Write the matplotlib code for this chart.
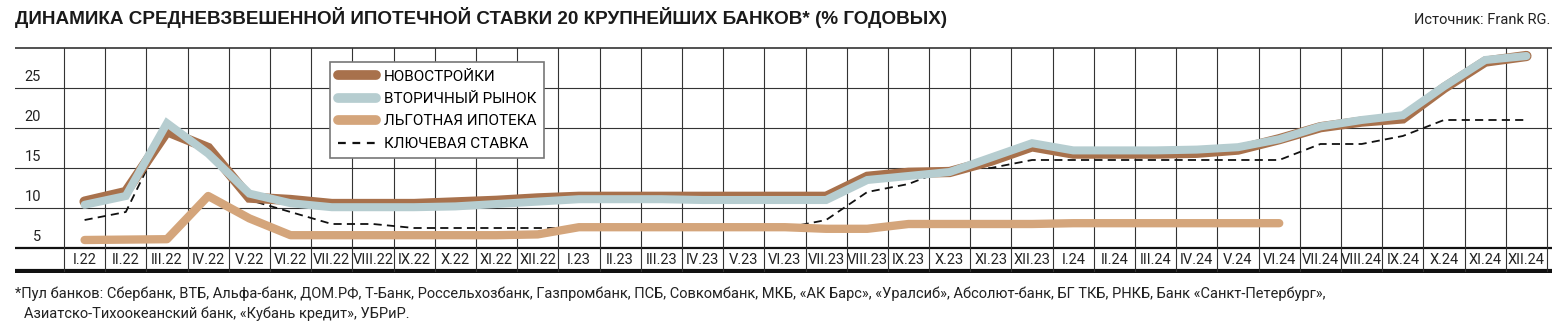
import matplotlib
matplotlib.use("Agg")
import matplotlib.pyplot as plt
from matplotlib.lines import Line2D

# Подписи месяцев
months = ["I.22", "II.22", "III.22", "IV.22", "V.22", "VI.22", "VII.22", "VIII.22",
          "IX.22", "X.22", "XI.22", "XII.22",
          "I.23", "II.23", "III.23", "IV.23", "V.23", "VI.23", "VII.23", "VIII.23",
          "IX.23", "X.23", "XI.23", "XII.23",
          "I.24", "II.24", "III.24", "IV.24", "V.24", "VI.24", "VII.24", "VIII.24",
          "IX.24", "X.24", "XI.24", "XII.24"]

# Ставки, % годовых
novostroyki = [10.8, 12.0, 19.6, 17.5, 11.3, 11.0, 10.5, 10.5, 10.5, 10.7, 10.9, 11.2,
               11.4, 11.4, 11.4, 11.4, 11.4, 11.4, 11.4, 13.9, 14.4, 14.5, 15.9, 17.7,
               16.8, 16.8, 16.8, 16.9, 17.3, 18.6, 20.1, 20.8, 21.2, 25.0, 28.3, 29.0]
vtorichny = [10.4, 11.5, 20.6, 16.8, 11.8, 10.6, 10.1, 10.1, 10.1, 10.2, 10.5, 10.8,
             11.1, 11.1, 11.1, 11.0, 11.0, 11.0, 11.0, 13.5, 14.0, 14.5, 16.3, 18.1,
             17.2, 17.2, 17.2, 17.3, 17.6, 18.6, 20.2, 21.0, 21.6, 25.2, 28.5, 29.0]
lgotnaya = [6.0, 6.05, 6.1, 11.5, 8.7, 6.6, 6.6, 6.6, 6.6, 6.6, 6.6, 6.7,
            7.6, 7.6, 7.6, 7.6, 7.6, 7.6, 7.4, 7.4, 8.0, 8.0, 8.0, 8.0,
            8.1, 8.1, 8.1, 8.1, 8.1, 8.1]
key_rate = [8.5, 9.5, 20, 17, 11, 9.5, 8, 8, 7.5, 7.5, 7.5, 7.5,
            7.5, 7.5, 7.5, 7.5, 7.5, 7.5, 8.5, 12, 13, 15, 15, 16,
            16, 16, 16, 16, 16, 16, 18, 18, 19, 21, 21, 21]
y_ticks = [5, 10, 15, 20, 25]

C_NEW = "#a8714c"
C_SEC = "#b6cdd0"
C_LGOT = "#d4a57b"
C_GRID = "#333333"

narrow = ["Liberation Sans Narrow", "Roboto", "DejaVu Sans"]

W, H = 1564, 324
fig = plt.figure(figsize=(W / 100, H / 100), dpi=100)

# Область графика: по x индексы месяцев, по y проценты
left_px, right_px, top_px, bot_px = 15, 1552, 47, 273
ax = fig.add_axes([left_px / W, 1 - bot_px / H, (right_px - left_px) / W, (bot_px - top_px) / H])
col_w = (1547 - 64) / 36
x_left = -0.5 - (64 - left_px) / col_w
x_right = 35.5 + (right_px - 1547) / col_w
ppu = 8.0  # пикселей на процент
y_top = 5 + (248 - top_px) / ppu
y_bot = 5 - (bot_px - 248) / ppu
ax.set_xlim(x_left, x_right)
ax.set_ylim(y_bot, y_top)
ax.axis("off")

# Сетка
for v in y_ticks[1:]:
    ax.axhline(v, color=C_GRID, lw=0.8, zorder=1)
ax.axhline(y_top - 0.08, color=C_GRID, lw=1.2, zorder=1)
ax.axhline(5, color="#111111", lw=1.6, zorder=1)
ax.axhline(y_bot + 0.22, color="#111111", lw=3.0, zorder=1)
for i in range(len(months) + 1):
    ax.plot([i - 0.5, i - 0.5], [y_bot + 0.22, y_top - 0.08], color=C_GRID, lw=0.8, zorder=1)

# Подписи
for v in y_ticks:
    ax.text(-0.5 - (64 - 41) / col_w, v + 1.35, str(v), ha="right", va="center",
            fontsize=10.5, family=narrow, color="#222222")
for i, m in enumerate(months):
    ax.text(i, (5 + y_bot + 0.22) / 2, m, ha="center", va="center",
            fontsize=10.5, family=narrow, color="#222222")

# Линии
x_all = list(range(len(months)))
ax.plot(x_all, key_rate, color="#111111", lw=1.3, dashes=(4.5, 2.9), zorder=2,
        label="КЛЮЧЕВАЯ СТАВКА")
ax.plot(list(range(len(lgotnaya))), lgotnaya, color=C_LGOT, lw=6.0, solid_capstyle="round",
        solid_joinstyle="round", zorder=3, label="ЛЬГОТНАЯ ИПОТЕКА")
ax.plot(x_all, novostroyki, color=C_NEW, lw=7.4, solid_capstyle="round",
        solid_joinstyle="miter", zorder=4, label="НОВОСТРОЙКИ")
ax.plot(x_all, vtorichny, color=C_SEC, lw=5.8, solid_capstyle="round",
        solid_joinstyle="miter", zorder=5, label="ВТОРИЧНЫЙ РЫНОК")

# Легенда
handles = [
    Line2D([], [], color=C_NEW, lw=7, solid_capstyle="round"),
    Line2D([], [], color=C_SEC, lw=7, solid_capstyle="round"),
    Line2D([], [], color=C_LGOT, lw=7, solid_capstyle="round"),
    Line2D([], [], color="#111111", lw=1.6, dashes=(3.5, 3)),
]
labels = ["НОВОСТРОЙКИ", "ВТОРИЧНЫЙ РЫНОК", "ЛЬГОТНАЯ ИПОТЕКА", "КЛЮЧЕВАЯ СТАВКА"]
leg = ax.legend(handles, labels, loc="upper left", bbox_to_anchor=(330 / W, 1 - 62 / H),
                bbox_transform=fig.transFigure, borderaxespad=0, fancybox=False,
                framealpha=1, edgecolor="#777777", handlelength=2.5, handletextpad=0.55,
                labelspacing=0.55, borderpad=0.5,
                prop={"family": narrow, "size": 11})
leg.get_frame().set_linewidth(1.2)
leg.set_zorder(10)

# Заголовок, источник, сноска
fig.text(15 / W, 1 - 18 / H, "ДИНАМИКА СРЕДНЕВЗВЕШЕННОЙ ИПОТЕЧНОЙ СТАВКИ 20 КРУПНЕЙШИХ БАНКОВ* (% ГОДОВЫХ)",
         ha="left", va="center", fontsize=13.6, fontweight="bold", family="Liberation Sans",
         color="#1a1a1a")
fig.text(1550 / W, 1 - 20 / H, "Источник: Frank RG.", ha="right", va="center",
         fontsize=10.5, family="Roboto", color="#222222")
fig.text(15 / W, 1 - 294 / H,
         "*Пул банков: Сбербанк, ВТБ, Альфа-банк, ДОМ.РФ, Т-Банк, Россельхозбанк, Газпромбанк, ПСБ, "
         "Совкомбанк, МКБ, «АК Барс», «Уралсиб», Абсолют-банк, БГ ТКБ, РНКБ, Банк «Санкт-Петербург»,",
         ha="left", va="center", fontsize=10.5, family=narrow, color="#222222")
fig.text(24 / W, 1 - 314 / H, "Азиатско-Тихоокеанский банк, «Кубань кредит», УБРиР.",
         ha="left", va="center", fontsize=10.5, family=narrow, color="#222222")

fig.savefig("out.png", dpi=100)
